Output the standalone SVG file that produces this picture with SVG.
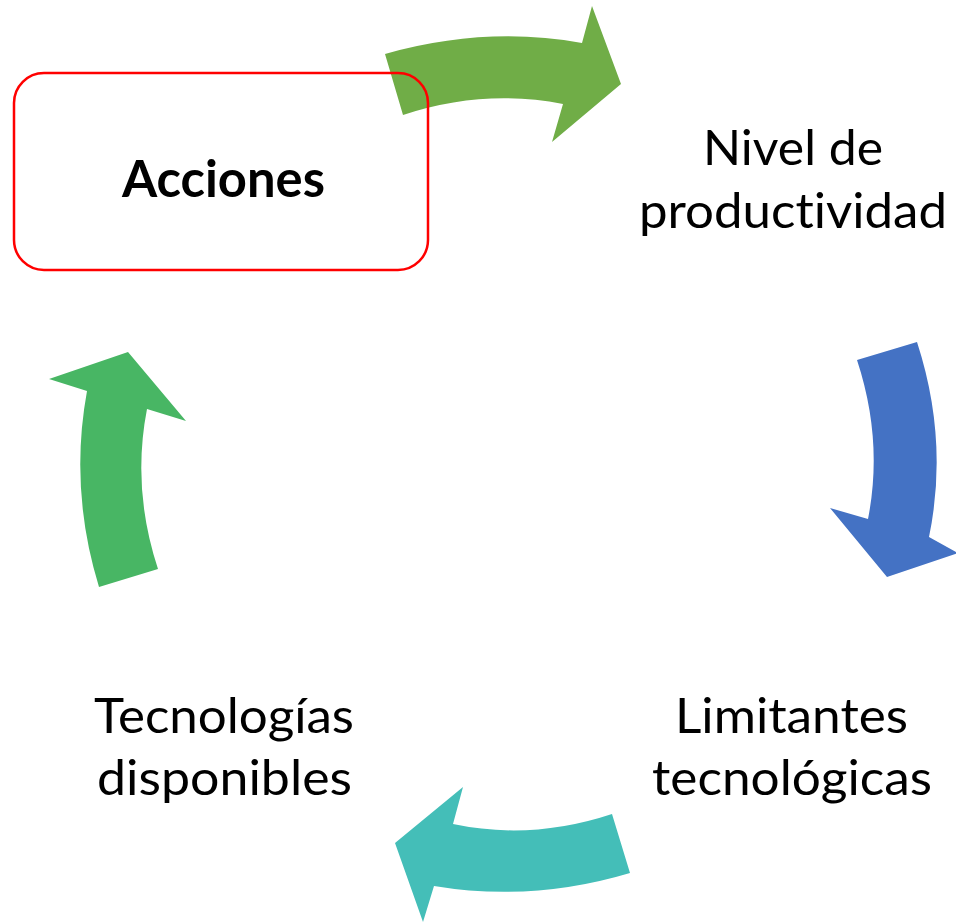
<svg xmlns="http://www.w3.org/2000/svg" width="956" height="922" viewBox="0 0 956 922">
<style>
.lbl{font-family:Lato,"Open Sans","Liberation Sans",sans-serif;font-size:49px;fill:#000;font-variant-ligatures:none;font-feature-settings:"liga" 0,"clig" 0,"dlig" 0}
.bold{font-weight:bold;font-size:52px}
.box{fill:none;stroke:#FF0000;stroke-width:2.5}
</style>
<rect width="956" height="922" fill="#fff"/>
<g id="connectors">
<path id="arrow-top" fill="#70AD47" d="M385,54 Q486,25.5 582,43 L592,6 L621,84 L552,142 L563,104 Q483,88.5 403,115 Z"/>
<path id="arrow-right" fill="#4472C4" d="M857,360 L917,342 Q949,440.5 929,537 L958,553 L887,577 L830,508 L868,519 Q883.5,440.5 857,360 Z"/>
<path id="arrow-bottom" fill="#44BEB8" d="M612,814 Q531.5,840.7 453,824 L463,787 L395,843 L423,922 L434,886 Q532,902.4 630,873 Z"/>
<path id="arrow-left" fill="#48B664" d="M99,587 L158,569 Q131.5,488.7 147,409 L186,421 L128,352 L49,379 L87,391 Q69,489.2 99,587 Z"/>
</g>
<g id="node-acciones">
<rect class="box" x="14" y="73" width="414" height="197" rx="30"/>
<text class="lbl bold" x="122" y="197" textLength="203" lengthAdjust="spacingAndGlyphs">Acciones</text>
</g>
<g id="node-nivel">
<text class="lbl" x="703" y="165" textLength="180" lengthAdjust="spacingAndGlyphs">Nivel de</text>
<text class="lbl" x="639" y="228" textLength="308" lengthAdjust="spacingAndGlyphs">productividad</text>
</g>
<g id="node-limitantes">
<text class="lbl" x="675" y="733" textLength="233" lengthAdjust="spacingAndGlyphs">Limitantes</text>
<text class="lbl" x="652" y="795" textLength="280" lengthAdjust="spacingAndGlyphs">tecnológicas</text>
</g>
<g id="node-tecnologias">
<text class="lbl" x="94" y="733" textLength="260" lengthAdjust="spacingAndGlyphs">Tecnologías</text>
<text class="lbl" x="97" y="795" textLength="255" lengthAdjust="spacingAndGlyphs">disponibles</text>
</g>
</svg>
